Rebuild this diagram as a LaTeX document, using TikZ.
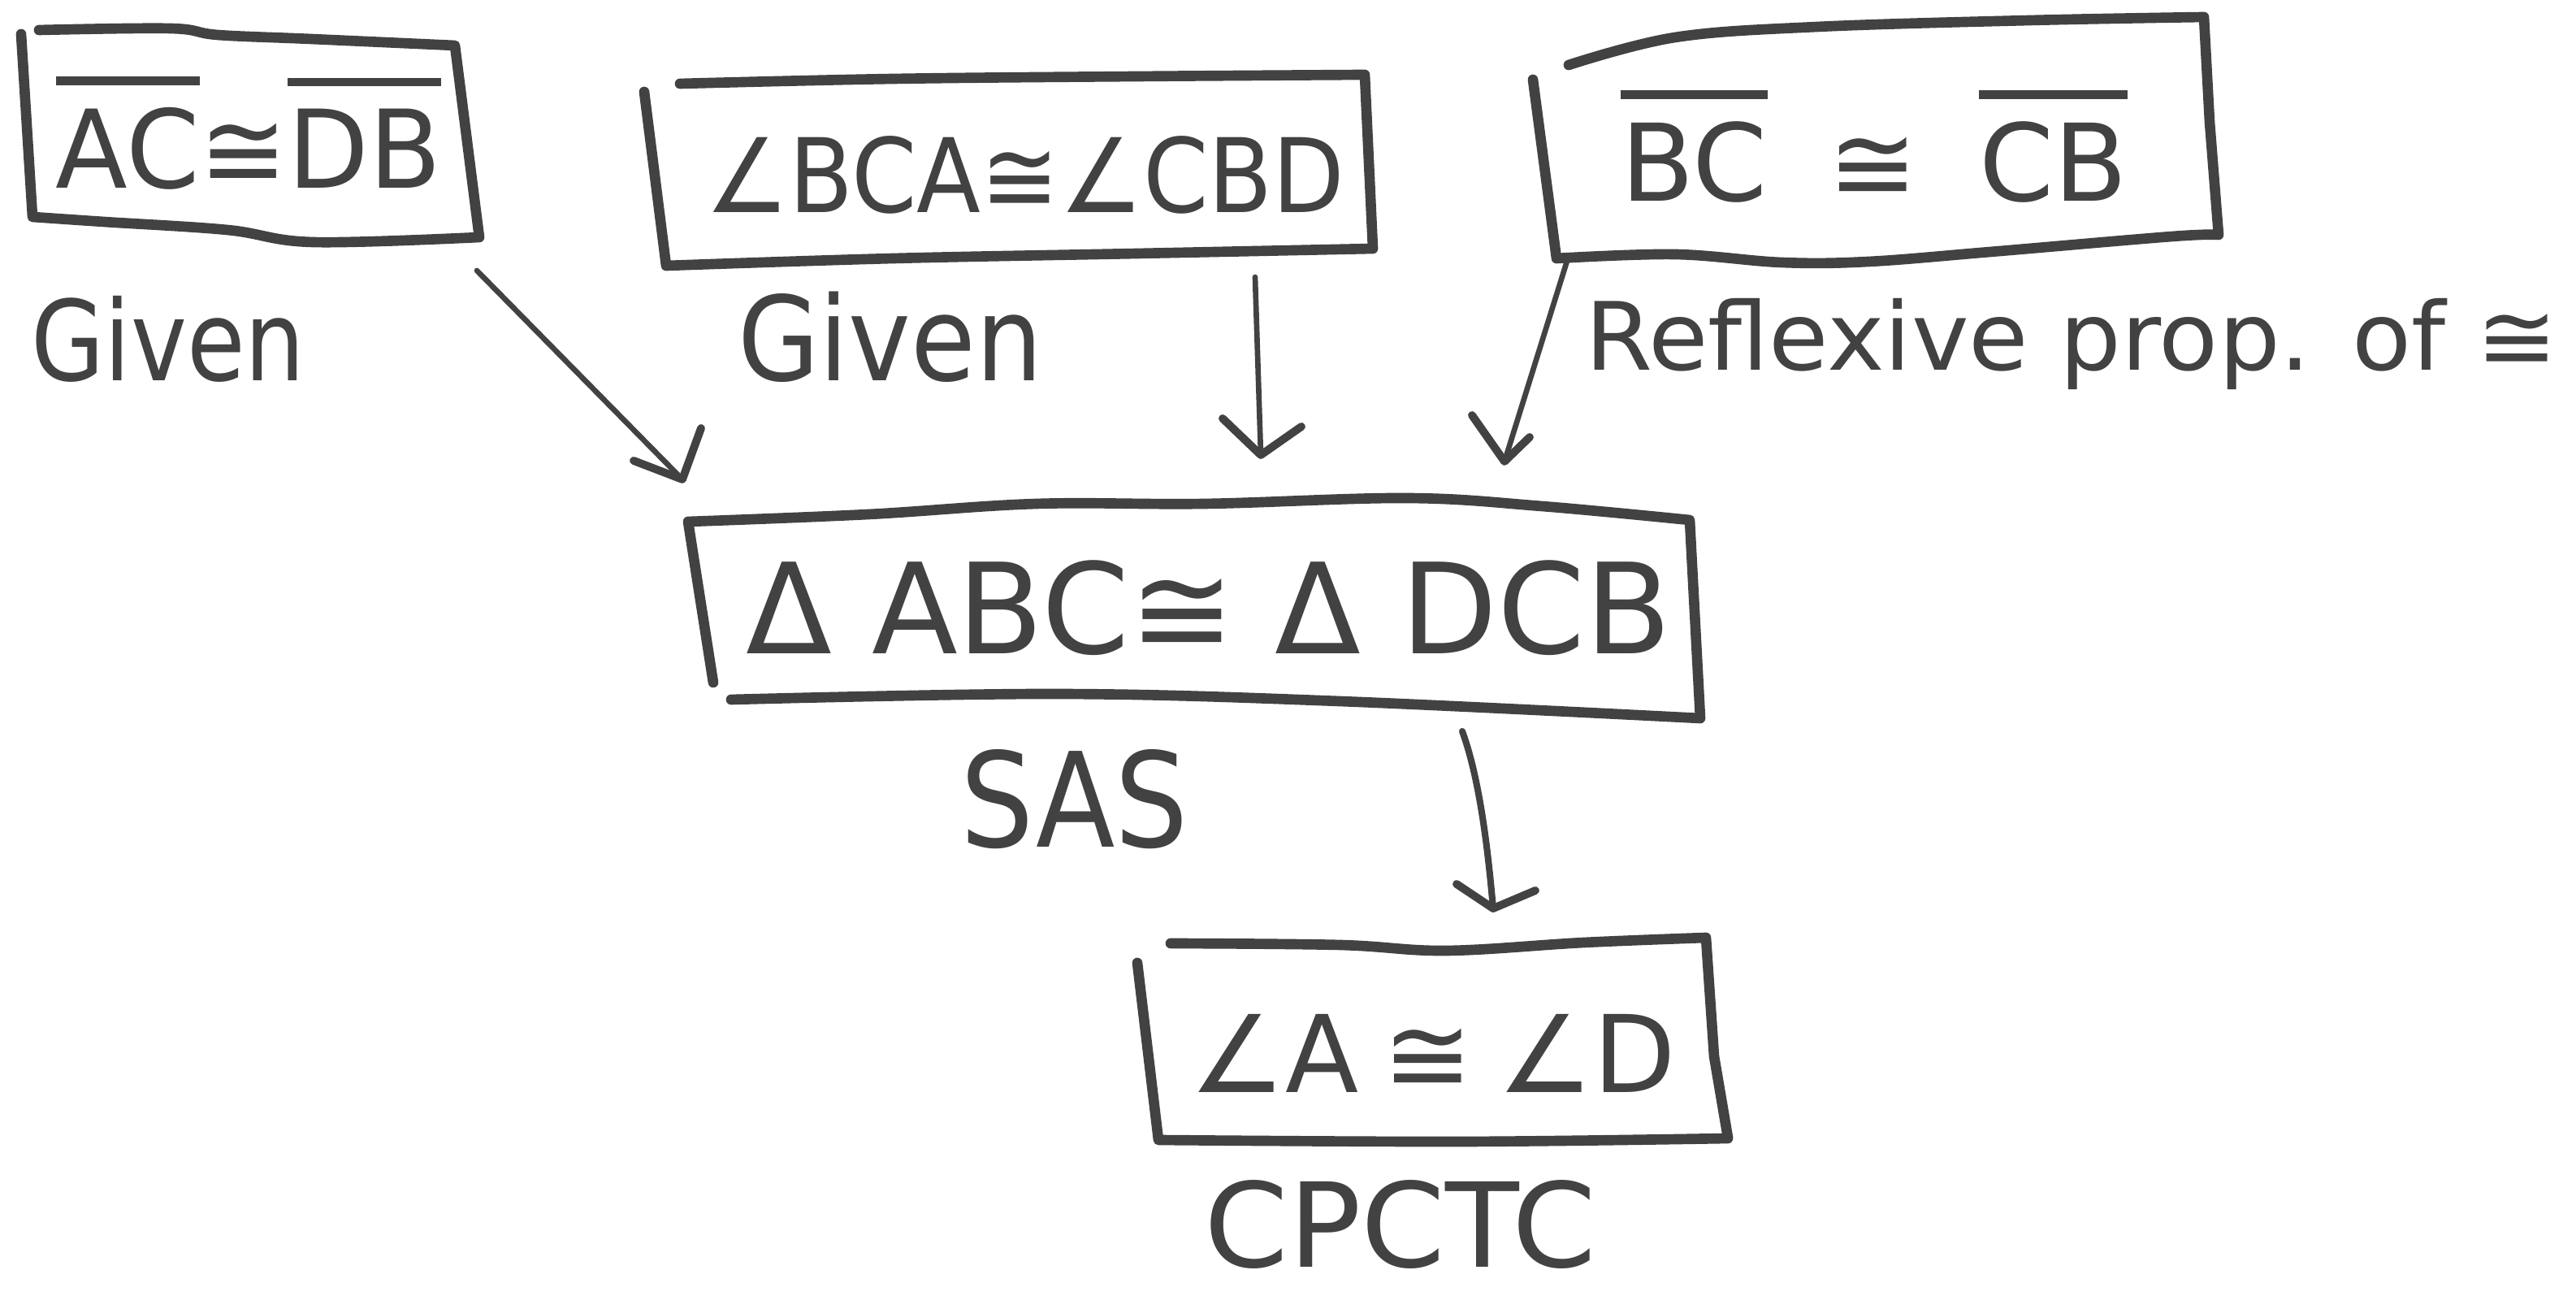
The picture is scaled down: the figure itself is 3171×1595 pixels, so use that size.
\documentclass[tikz,border=0pt]{standalone}
\usepackage{fontspec}
\usepackage{graphicx}
\setmainfont{DejaVu Sans}
\usetikzlibrary{calc}
\definecolor{inkc}{RGB}{66,66,66}
% bar over a segment name
\newcommand\segbar[1]{\vbox{\hrule height 3pt\kern 8pt\hbox{#1}}}
\newcommand\hfs[1]{\fontsize{#1}{#1}\selectfont}
\tikzset{
  ink/.style={draw=inkc, line width=3.6pt, line cap=round, line join=round},
  hand/.style={text=inkc, inner sep=0pt, anchor=base},
  shaft/.style={draw=inkc, line width=1.9pt, line cap=round},
  barb/.style={draw=inkc, line width=2.8pt, line cap=round, line join=round},
}
\begin{document}
\begin{tikzpicture}[x=0.01cm, y=-0.01cm]
\useasboundingbox (0,0) rectangle (3171,1595);
\fill[white] (0,0) rectangle (3171,1595);

% ---- statements ----
\node[hand, font=\hfs{38pt}] (s1) at (306,232) {\scalebox{0.97}[1]{\segbar{AC}≅\segbar{DB}}};
\node[hand, font=\hfs{36pt}] (s2) at (1262,262) {\scalebox{0.91}[1]{∠BCA≅∠CBD}};
\node[hand, font=\hfs{37.5pt}] (s3) at (2307,248) {\segbar{BC}\hspace{0.75cm}≅\hspace{0.75cm}\segbar{CB}};
\node[hand, font=\hfs{44pt}] (s4) at (1488,805) {Δ ABC≅ Δ DCB};
\node[hand, font=\hfs{37.5pt}] (s5) at (1764,1345) {∠A\hspace{0.3cm}≅\hspace{0.3cm}∠D};

% ---- reasons ----
\node[hand, font=\hfs{39pt}] (r1) at (207,469) {\scalebox{0.85}[1]{Given}};
\node[hand, font=\hfs{41pt}] (r2) at (1096,469) {\scalebox{0.9}[1]{Given}};
\node[hand, font=\hfs{33pt}] (r3) at (2550,456) {\scalebox{1.03}[1]{Reflexive prop. of ≅}};
\node[hand, font=\hfs{46pt}] (r4) at (1323,1043) {\scalebox{0.88}[1]{SAS}};
\node[hand, font=\hfs{41pt}] (r5) at (1724,1560) {\scalebox{1.03}[1]{CPCTC}};

% ---- hand-drawn boxes ----
\draw[ink] plot[smooth, tension=0.6] coordinates {(48,37) (210,35) (268,43) (383,48) (560,56)}
  -- (590,292)
  -- plot[smooth, tension=0.6] coordinates {(590,292) (385,298) (280,283) (128,273) (40,267)}
  -- (26,42);
\draw[ink] plot[smooth, tension=0.6] coordinates {(837,103) (1100,97) (1400,94) (1680,92)}
  -- (1690,306)
  -- plot[smooth, tension=0.6] coordinates {(1690,306) (1400,312) (1100,318) (820,327)}
  -- (793,113);
\draw[ink] plot[smooth, tension=0.6] coordinates {(1931,80) (2062,46) (2237,33) (2499,25) (2713,21)}
  -- (2720,150) -- (2731,289)
  -- plot[smooth, tension=0.6] coordinates {(2731,289) (2674,291) (2450,310) (2300,322) (2193,323) (2062,313) (1916,318)}
  -- (1887,98);
\draw[ink] (878,840) -- (847,642)
  -- plot[smooth, tension=0.6] coordinates {(847,642) (1069,633) (1276,620) (1483,620) (1732,613) (1898,623) (2080,640)}
  -- (2093,884)
  -- plot[smooth, tension=0.6] coordinates {(2093,884) (1649,863) (1300,854) (900,861)};
\draw[ink] plot[smooth, tension=0.6] coordinates {(1441,1161) (1650,1163) (1780,1170) (1950,1160) (2100,1154)}
  -- (2110,1300) -- (2127,1400)
  -- plot[smooth, tension=0.6] coordinates {(2127,1401) (1800,1405) (1426,1403)}
  -- (1400,1185);

% ---- connectors ----
\coordinate (a1s) at (587,333);  \coordinate (a1e) at (840,590);
\coordinate (a2s) at (1545,341); \coordinate (a2e) at (1552,560);
\coordinate (a3s) at (1930,318); \coordinate (a3e) at (1852,568);
\coordinate (a4s) at (1800,900); \coordinate (a4e) at (1838,1118);

\draw[shaft] (a1s) -- (a1e);
\draw[barb] ($(a1e)+(-60,-23)$) -- (a1e) -- ++(23,-63);
\draw[shaft] (a2s) -- (a2e);
\draw[barb] ($(a2e)+(-47,-45)$) -- (a2e) -- ++(50,-35);
\draw[shaft] (a3s) -- (a3e);
\draw[barb] ($(a3e)+(-40,-57)$) -- (a3e) -- ++(31,-30);
\draw[shaft, line width=2.3pt] (a4s) .. controls (1822,960) and (1832,1050) .. (a4e);
\draw[barb] ($(a4e)+(-45,-30)$) -- (a4e) -- ++(52,-22);
\end{tikzpicture}
\end{document}
